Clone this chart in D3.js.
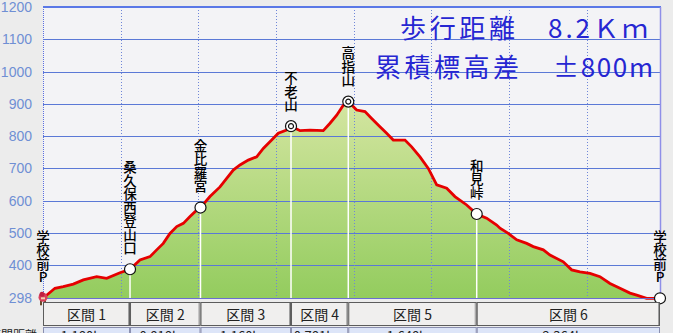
<!DOCTYPE html>
<html>
<head>
<meta charset="utf-8">
<script src="https://cdn.jsdelivr.net/npm/d3@7"></script>
<style>
    html, body { margin: 0; padding: 0; background: #ececec; overflow: hidden; }
    svg { display: block; }
</style>
</head>
<body>
<div id="chart"></div>
<script>
'use strict';

// profile: distance (km) / elevation (m)
var profileKm = [0, 0.154, 0.261, 0.390, 0.519, 0.691, 0.820, 0.991, 1.120, 1.248, 1.377, 1.463, 1.548, 1.634, 1.721, 1.806, 1.892, 1.978, 2.027,
    2.149, 2.278, 2.364, 2.449, 2.535, 2.642, 2.750, 2.835, 2.943, 3.028, 3.136, 3.192, 3.308, 3.436, 3.607, 3.694, 3.780, 3.865, 3.929,
    4.037, 4.144, 4.230, 4.337, 4.423, 4.508, 4.659, 4.745, 4.852, 4.959, 5.067, 5.196, 5.302, 5.453, 5.582, 5.710, 5.839, 5.882, 5.988,
    6.097, 6.225, 6.310, 6.439, 6.525, 6.696, 6.804, 6.911, 7.040, 7.168, 7.297, 7.426, 7.555, 7.641, 7.769, 7.941];
var profileElev = [298, 329, 334, 342, 355, 365, 360, 377, 388, 417, 427, 448, 468, 499, 520, 530, 551, 571, 579,
    613, 643, 669, 695, 711, 726, 736, 762, 788, 809, 819, 831, 817, 819, 817, 840, 865, 896, 907,
    881, 876, 855, 829, 809, 788, 788, 767, 736, 700, 649, 639, 613, 587, 559, 546, 525, 515, 499,
    479, 468, 458, 448, 432, 411, 386, 380, 375, 365, 344, 329, 314, 308, 298, 298];

// waypoints
var pointNames = ['学校前P', '桑久保西登山口', '金比羅宮', '不老山', '高指山', '和見峠', '学校前P'];
var pointKm = [0, 1.120, 2.027, 3.192, 3.929, 5.582, 7.941];
var pointElev = [298, 388, 579, 831, 907, 559, 298];
var pointPeak = [false, false, false, true, true, false, false];

// sections table
var sectionNames = ['区間 1', '区間 2', '区間 3', '区間 4', '区間 5', '区間 6'];
var sectionDist = ['1.180km', '0.818km', '1.160km', '0.781km', '1.648km', '2.364km'];

var yTicks = [298, 400, 500, 600, 700, 800, 900, 1000, 1100, 1200];
var xTicks = [1, 2, 3, 4, 5, 6, 7];

var titleLines = [['歩行距離', '8.2Ｋｍ'], ['累積標高差', '±800m']];

var config = {
    width: 673,
    height: 333,
    left: 43,
    right: 660,
    top: 7,
    bottom: 298.3
};

var jp = '"Noto Sans CJK JP", "Noto Sans", sans-serif';
var gridBlue = '#5a78d6';

var svg = d3.select('#chart').append('svg')
    .attr('width', config.width)
    .attr('height', config.height);

var x = d3.scaleLinear().domain([0, 7.941]).range([config.left, config.right]);
var y = d3.scaleLinear().domain([298, 1200]).range([config.bottom, config.top]);

var profile = profileKm.map(function (d, i) {
    return { km: d, elev: profileElev[i] };
});
var points = pointNames.map(function (d, i) {
    return { name: d, km: pointKm[i], elev: pointElev[i], peak: pointPeak[i] };
});

var defs = svg.append('defs');
var grad = defs.append('linearGradient')
    .attr('id', 'fill')
    .attr('gradientUnits', 'userSpaceOnUse')
    .attr('x1', 0).attr('x2', 0)
    .attr('y1', y(900)).attr('y2', y(298));
grad.append('stop').attr('offset', 0).attr('stop-color', '#d3e5a0');
grad.append('stop').attr('offset', 1).attr('stop-color', '#93cc5e');

// plot background
svg.append('rect')
    .attr('x', config.left).attr('y', config.top)
    .attr('width', config.right - config.left)
    .attr('height', config.bottom - config.top)
    .attr('fill', '#f3f3f6');

// area
var area = d3.area()
    .x(function (d) { return x(d.km); })
    .y0(y(298))
    .y1(function (d) { return y(d.elev); });

svg.append('path')
    .datum(profile)
    .attr('d', area)
    .attr('fill', 'url(#fill)');

// horizontal grid
svg.append('g').selectAll('line')
    .data(yTicks.filter(function (d) { return d !== 1200; }))
    .enter().append('line')
    .attr('x1', config.left).attr('x2', config.right)
    .attr('y1', function (d) { return Math.round(y(d)) + 0.5; })
    .attr('y2', function (d) { return Math.round(y(d)) + 0.5; })
    .attr('stroke', gridBlue)
    .attr('stroke-width', 1);

// vertical dotted grid
svg.append('g').selectAll('line')
    .data(xTicks)
    .enter().append('line')
    .attr('x1', function (d) { return Math.round(x(d)) + 0.5; })
    .attr('x2', function (d) { return Math.round(x(d)) + 0.5; })
    .attr('y1', config.top).attr('y2', config.bottom)
    .attr('stroke', '#6f86d8')
    .attr('stroke-width', 1)
    .attr('stroke-dasharray', '1,2');

// frame
svg.append('line')
    .attr('x1', config.left + 0.5).attr('x2', config.left + 0.5)
    .attr('y1', config.top).attr('y2', config.bottom)
    .attr('stroke', '#5a6ee0').attr('stroke-dasharray', '1,1');
svg.append('line')
    .attr('x1', config.left).attr('x2', config.right + 1)
    .attr('y1', y(1200)).attr('y2', y(1200))
    .attr('stroke', '#5a78e6').attr('stroke-width', 2);
svg.append('line')
    .attr('x1', config.right + 0.5).attr('x2', config.right + 0.5)
    .attr('y1', config.top).attr('y2', config.bottom)
    .attr('stroke', '#8f8fe8').attr('stroke-width', 1.5);

// y axis labels
var yAxis = d3.axisLeft(y).tickValues(yTicks).tickFormat(d3.format('d')).tickSize(0).tickPadding(11);
var yAxisG = svg.append('g')
    .attr('transform', 'translate(' + config.left + ',0)')
    .call(yAxis);
yAxisG.select('.domain').remove();
yAxisG.selectAll('text')
    .attr('fill', '#6f8fd4')
    .style('font-family', '"Liberation Sans", Arial, sans-serif')
    .style('font-size', '14px');

// white drop lines from waypoints
svg.append('g').selectAll('line')
    .data(points.slice(1, -1))
    .enter().append('line')
    .attr('x1', function (d) { return x(d.km); })
    .attr('x2', function (d) { return x(d.km); })
    .attr('y1', function (d) { return y(d.elev); })
    .attr('y2', config.bottom)
    .attr('stroke', '#ffffff')
    .attr('stroke-width', 1.5);

// profile line
var line = d3.line()
    .x(function (d) { return x(d.km); })
    .y(function (d) { return y(d.elev); });

svg.append('path')
    .datum(profile)
    .attr('d', line)
    .attr('fill', 'none')
    .attr('stroke', '#e60000')
    .attr('stroke-width', 2.8)
    .attr('stroke-linejoin', 'miter');

// bottom axis line
svg.append('line')
    .attr('x1', config.left).attr('x2', config.right)
    .attr('y1', Math.round(y(298)) + 0.5).attr('y2', Math.round(y(298)) + 0.5)
    .attr('stroke', '#6a6fd0').attr('stroke-width', 1.2);

// markers
var markers = svg.append('g').selectAll('g')
    .data(points.slice(1))
    .enter().append('g')
    .attr('transform', function (d) { return 'translate(' + x(d.km) + ',' + y(d.elev) + ')'; });

markers.append('circle')
    .attr('r', 5.5)
    .attr('fill', '#ffffff')
    .attr('stroke', '#111')
    .attr('stroke-width', 1.2);
markers.filter(function (d) { return d.peak; }).append('circle')
    .attr('r', 2.5)
    .attr('fill', 'none')
    .attr('stroke', '#111')
    .attr('stroke-width', 1.2);

// start icon (hiker)
var hiker = svg.append('g')
    .attr('transform', 'translate(' + x(0) + ',' + y(298) + ')');
hiker.append('rect').attr('x', -3).attr('y', 1).attr('width', 2).attr('height', 6).attr('fill', '#6b4a2a');
hiker.append('rect').attr('x', 1).attr('y', 1).attr('width', 2).attr('height', 6).attr('fill', '#6b4a2a');
hiker.append('circle').attr('cy', -1).attr('r', 4.5).attr('fill', '#d8405a');
hiker.append('circle').attr('cx', -1).attr('cy', -4).attr('r', 2.5).attr('fill', '#c02040');
hiker.append('rect').attr('x', -2).attr('y', -1).attr('width', 4).attr('height', 2).attr('fill', '#f0d0b0');

// vertical waypoint labels (one text each, set vertically)
svg.append('g').selectAll('text')
    .data(points)
    .enter().append('text')
    .attr('x', function (d) { return x(d.km); })
    .attr('y', function (d) { return y(d.elev) - 14.5; })
    .attr('text-anchor', 'end')
    .style('writing-mode', 'vertical-rl')
    .style('text-orientation', 'upright')
    .style('font-family', jp)
    .style('font-size', '13.5px')
    .style('font-weight', 500)
    .attr('fill', '#000')
    .text(function (d) { return d.name; });

// title block
var titleX = [[400, 515, 548, 648], [375, 519, 553, 653]];
var titleY = [38, 77];
titleLines.forEach(function (row, i) {
    svg.append('text')
        .attr('x', titleX[i][0]).attr('y', titleY[i])
        .attr('textLength', titleX[i][1] - titleX[i][0])
        .attr('lengthAdjust', 'spacing')
        .attr('font-family', jp)
        .attr('font-size', 26)
        .attr('fill', '#2626d2')
        .text(row[0]);
    svg.append('text')
        .attr('x', titleX[i][2]).attr('y', titleY[i])
        .attr('textLength', titleX[i][3] - titleX[i][2])
        .attr('lengthAdjust', 'spacing')
        .attr('font-family', jp)
        .attr('font-size', 26)
        .attr('fill', '#2626d2')
        .text(row[1]);
});

// sections table
var bounds = pointKm.map(function (d) { return x(d); });
var rowTop = 302, rowH = 23, row2Top = 327;

var cells = svg.append('g').selectAll('g')
    .data(sectionNames)
    .enter().append('g');

cells.append('rect')
    .attr('x', function (d, i) { return bounds[i] + 0.5; })
    .attr('y', rowTop + 0.5)
    .attr('width', function (d, i) { return bounds[i + 1] - bounds[i] - 1; })
    .attr('height', rowH)
    .attr('fill', '#f0efee')
    .attr('stroke', '#5c5c5c');
cells.append('line')
    .attr('x1', function (d, i) { return bounds[i + 1] - 1.5; })
    .attr('x2', function (d, i) { return bounds[i + 1] - 1.5; })
    .attr('y1', rowTop + 1).attr('y2', rowTop + rowH)
    .attr('stroke', '#a0a0a0');
cells.append('text')
    .attr('x', function (d, i) { return (bounds[i] + bounds[i + 1]) / 2; })
    .attr('y', rowTop + 18)
    .attr('text-anchor', 'middle')
    .attr('font-family', jp)
    .attr('font-size', 14)
    .attr('fill', '#222')
    .text(function (d) { return d; });

cells.append('rect')
    .attr('x', function (d, i) { return bounds[i] + 0.5; })
    .attr('y', row2Top + 0.5)
    .attr('width', function (d, i) { return bounds[i + 1] - bounds[i] - 1; })
    .attr('height', 20)
    .attr('fill', '#dde5f8')
    .attr('stroke', '#8a8fb0');
cells.append('text')
    .attr('x', function (d, i) { return (bounds[i] + bounds[i + 1]) / 2; })
    .attr('y', row2Top + 14)
    .attr('text-anchor', 'middle')
    .attr('font-family', jp)
    .attr('font-size', 13)
    .attr('fill', '#222')
    .text(function (d, i) { return sectionDist[i]; });

svg.append('text')
    .attr('x', 37).attr('y', row2Top + 13)
    .attr('text-anchor', 'end')
    .attr('font-family', jp)
    .attr('font-size', 12)
    .attr('fill', '#222')
    .text('区間距離');
</script>
</body>
</html>
